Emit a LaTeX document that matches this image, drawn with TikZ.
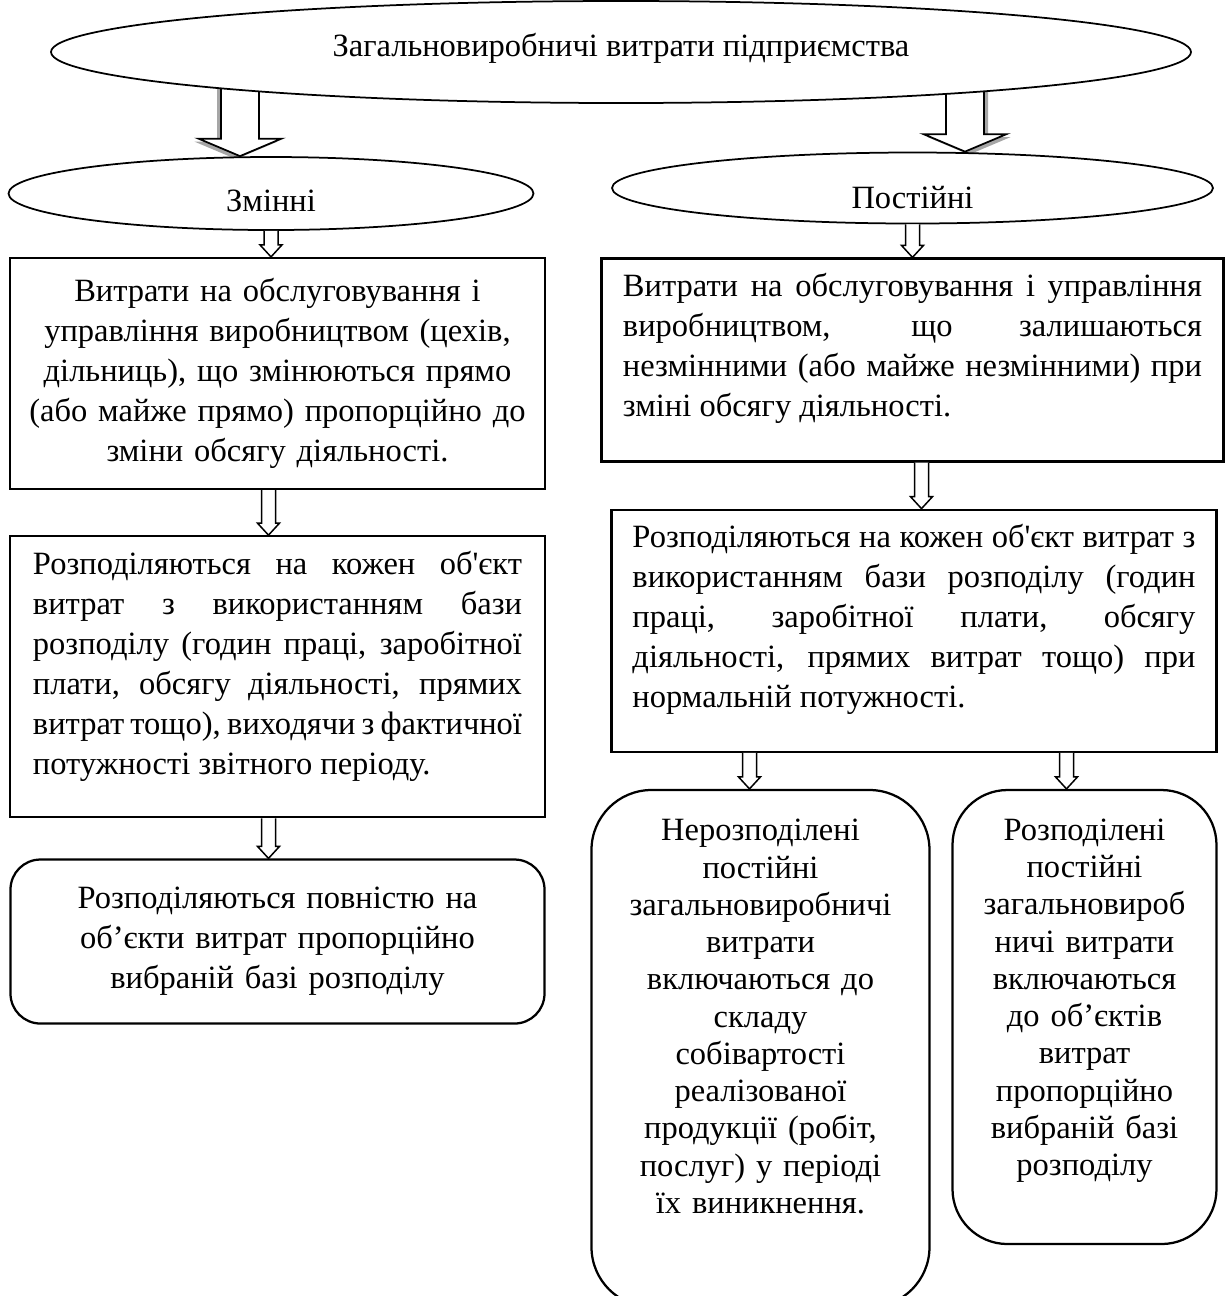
\documentclass[tikz,border=0pt]{standalone}
\usepackage{fontspec}
\setmainfont{Liberation Serif}
\usepackage{tikz}
\usetikzlibrary{calc,positioning,shapes.geometric,shadows}

\pgfdeclarelayer{back}
\pgfsetlayers{back,main}

% hollow block arrow downwards: style, x of the arrow, from, to, half shaft, half head, head length
\newcommand{\hollowdown}[7]{%
	\draw[#1] let \p1=(#2), \p2=(#3), \p3=(#4) in
		(\x1-#5,\y2) -- (\x1-#5,\y3+#7) -- (\x1-#6,\y3+#7) -- (\x1,\y3)
		-- (\x1+#6,\y3+#7) -- (\x1+#5,\y3+#7) -- (\x1+#5,\y2);
}
% keeps the lines of a box above its middle
\newcommand{\tailgap}[1]{\par\vspace{#1}\hrule height 0pt width 0pt}

\begin{document}
\begin{tikzpicture}[
			x=0.4pt, y=-0.4pt,
			oval/.style={ellipse, draw, line width=0.7pt, fill=white, inner sep=0pt, font=\fontsize{13}{16}\selectfont},
			box/.style={rectangle, draw, line width=0.9pt, fill=white, inner sep=0pt, font=\fontsize{13}{16}\selectfont},
			rbox/.style={box, font=\fontsize{13}{14.9}\selectfont},
			bigarrow/.style={draw, fill=white, line width=0.7pt},
			smallarrow/.style={draw, fill=white, line width=0.6pt}
		]
		\useasboundingbox (0,0) rectangle (1226,1296);
		\clip (0,0) rectangle (1226,1296);

		% Top level and the two kinds
		\node (total) [oval, minimum width=456pt, minimum height=40.8pt, text depth=6pt] at (621,52) {Загальновиробничі витрати підприємства};

		\node (zm) [oval, minimum width=210pt, minimum height=29.2pt, text height=14pt, text depth=0pt] at (271,193.5) {Змінні};

		\node (pos) [oval, minimum width=240.4pt, minimum height=28.4pt, text height=16pt, text depth=0pt] at (912.5,188) {Постійні};

		% Left column
		\node (lt1) [box, below=10.4pt of zm, xshift=2.6pt, minimum width=214pt, minimum height=92.4pt, text width=200pt, align=center] {Витрати на обслуговування і\\ управління виробництвом (цехів,\\ дільниць), що змінюються прямо\\ (або майже прямо) пропорційно до\\ зміни обсягу діяльності.};

		\node (lt2) [box, below=18pt of lt1, minimum width=214pt, minimum height=112.4pt, text width=195.6pt, align=justify] {Розподіляються на кожен об\textquotesingle єкт\linebreak витрат з використанням бази\linebreak розподілу (годин праці, заробітної\linebreak плати, обсягу діяльності, прямих\linebreak витрат тощо), виходячи з фактичної\linebreak потужності звітного періоду.\tailgap{8pt}};

		\node (lt3) [rbox, below=16pt of lt2, rounded corners=12pt, minimum width=213.6pt, minimum height=65.6pt, text width=200pt, align=center, font=\fontsize{13}{16}\selectfont] {Розподіляються повністю на\\ об’єкти витрат пропорційно\\ вибраній базі розподілу};

		% Right column
		\node (rt1) [box, below=13.2pt of pos, minimum width=248.8pt, minimum height=81.2pt, text width=231.6pt, align=justify] {Витрати на обслуговування і управління\linebreak виробництвом, що залишаються\linebreak незмінними (або майже незмінними) при\linebreak зміні обсягу діяльності.\tailgap{9.2pt}};

		\node (rt2) [box, below=18.4pt of rt1, xshift=0.6pt, minimum width=242pt, minimum height=96.8pt, text width=225.2pt, align=justify] {Розподіляються на кожен об\textquotesingle єкт витрат з\linebreak використанням бази розподілу (годин\linebreak праці, заробітної плати, обсягу\linebreak діяльності, прямих витрат тощо) при\linebreak нормальній потужності.\tailgap{8.8pt}};

		\node (rb1) [rbox, below=14.4pt of rt2.south west, anchor=north west, xshift=-8pt, rounded corners=24pt, minimum width=135.2pt, minimum height=206.8pt, text width=125pt, align=center] {Нерозподілені\\ постійні\\ загальновиробничі\\ витрати\\ включаються до\\ складу\\ собівартості\\ реалізованої\\ продукції (робіт,\\ послуг) у періоді\\ їх виникнення.\tailgap{25.6pt}};

		\node (rb2) [rbox, below=14.4pt of rt2.south east, anchor=north east, rounded corners=22pt, minimum width=105.6pt, minimum height=181.6pt, text width=100pt, align=center] {Розподілені\\ постійні\\ загальновироб\\ ничі витрати\\ включаються\\ до об’єктів\\ витрат\\ пропорційно\\ вибраній базі\\ розподілу\tailgap{13pt}};

		% Arrows
		\begin{pgfonlayer}{back}
			\hollowdown{bigarrow, drop shadow={shadow xshift=-1.6pt, shadow yshift=-1.2pt, fill=black, opacity=0.35}}{[xshift=-12.4pt]zm.north}{total.center}{zm.north}{7.6pt}{16.6pt}{7pt}
			\hollowdown{bigarrow, drop shadow={shadow xshift=1.6pt, shadow yshift=-1.2pt, fill=black, opacity=0.35}}{[xshift=21pt]pos.north}{total.center}{pos.north}{7.6pt}{16.6pt}{7pt}
		\end{pgfonlayer}
		\hollowdown{smallarrow}{zm.south}{zm.south}{lt1.north}{2.8pt}{4.4pt}{4.8pt}
		\hollowdown{smallarrow}{pos.south}{pos.south}{rt1.north}{2.8pt}{4.4pt}{4.8pt}
		\hollowdown{smallarrow}{[xshift=-3.6pt]lt1.south}{lt1.south}{lt2.north}{2.8pt}{4.4pt}{4.8pt}
		\hollowdown{smallarrow}{[xshift=-3.6pt]lt2.south}{lt2.south}{lt3.north}{2.8pt}{4.4pt}{4.8pt}
		\hollowdown{smallarrow}{[xshift=3.6pt]rt1.south}{rt1.south}{rt2.north}{2.8pt}{4.4pt}{4.8pt}
		\hollowdown{smallarrow}{[xshift=-4.4pt]rb1.north}{rt2.south}{rb1.north}{2.8pt}{4.4pt}{4.8pt}
		\hollowdown{smallarrow}{[xshift=-7.2pt]rb2.north}{rt2.south}{rb2.north}{2.8pt}{4.4pt}{4.8pt}
	\end{tikzpicture}
\end{document}
